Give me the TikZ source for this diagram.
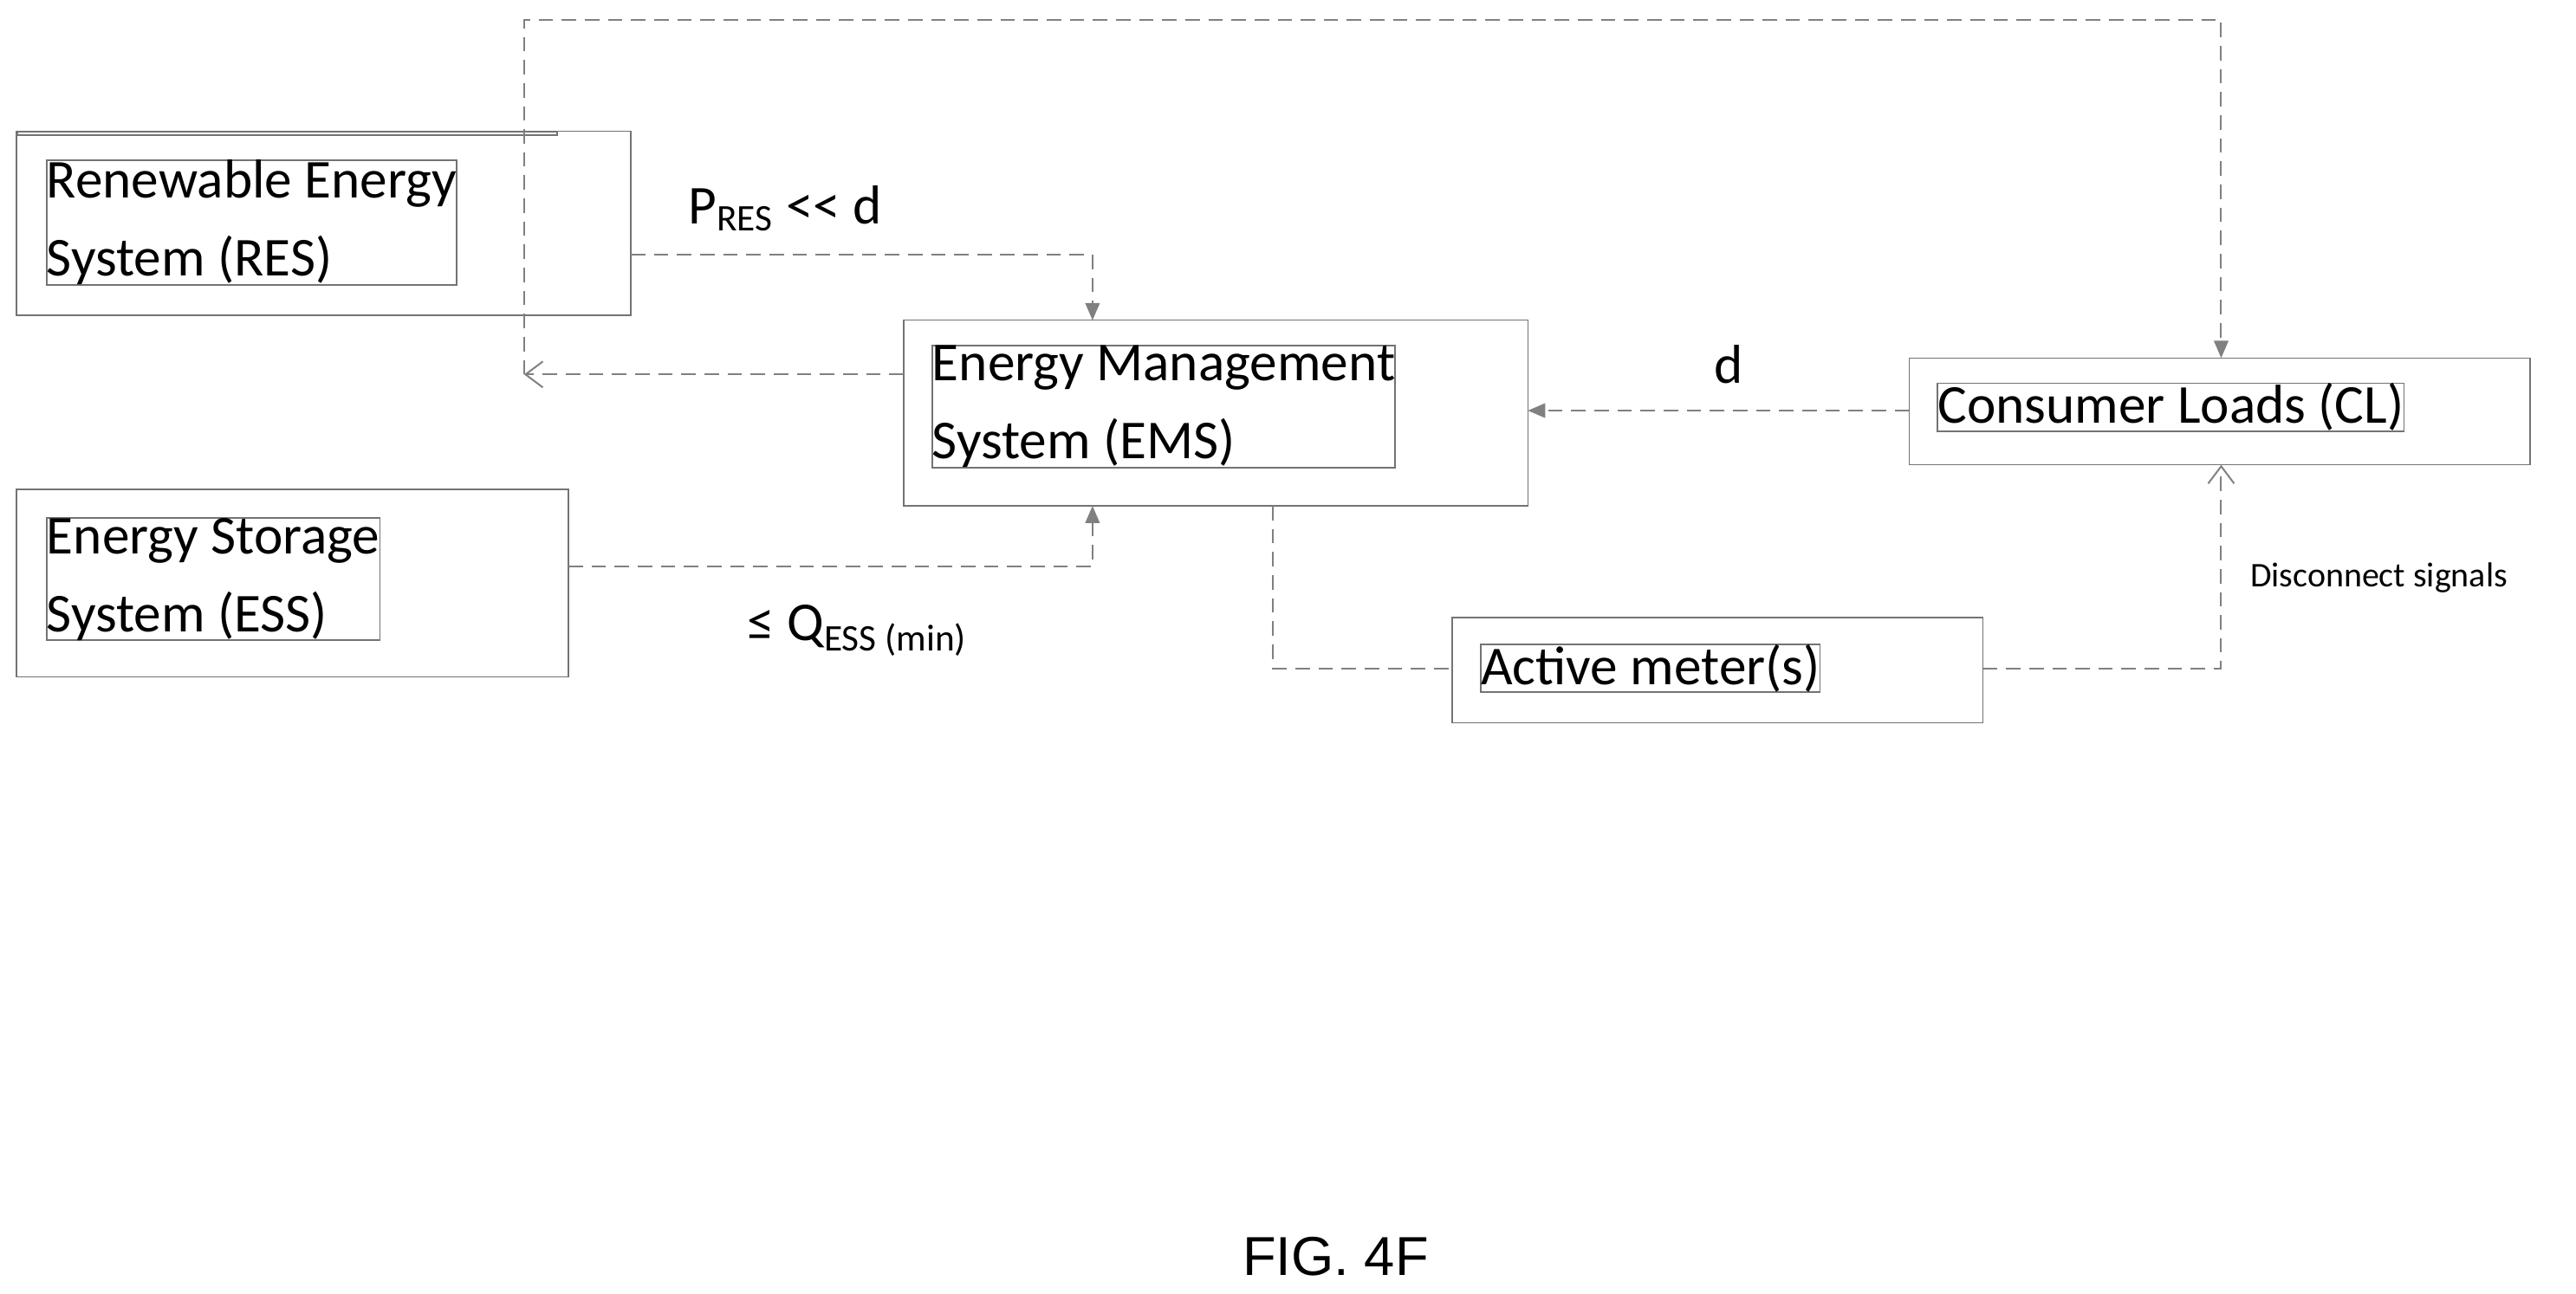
\documentclass[tikz,border=0pt]{standalone}
\usepackage{fontspec}
\setmainfont{Carlito}
\newfontfamily\figfont{Liberation Sans}
\usetikzlibrary{arrows.meta}
\begin{document}
\begin{tikzpicture}[x=0.02cm,y=-0.02cm,
  box/.style={draw=black!55,line width=0.5pt,align=left,anchor=north west,inner sep=0pt,font=\fontsize{19}{27}\selectfont},
  conn/.style={draw=black!50,line width=0.6pt,dash pattern=on 5pt off 3pt},
  tip/.style={-{Triangle[length=6pt,width=5pt]}},
  otip/.style={-{Straight Barb[length=6pt,width=9pt]}},
  lab/.style={font=\fontsize{19}{22}\selectfont,inner sep=0pt}]
\useasboundingbox (0,0) rectangle (1568,787.5);
\node[box,minimum width=374\pgflinewidth] (res) at (10,80) {};
\draw[black!55] (10,80) rectangle (384,192);
\node[box] (rest) at (28,97) {Renewable Energy\\System (RES)};
\draw[black!55] (10,298) rectangle (346,412);
\node[box] (esst) at (28,315) {Energy Storage\\System (ESS)};
\draw[black!55] (550,195) rectangle (930,308);
\node[box] (emst) at (567,210) {Energy Management\\System (EMS)};
\draw[black!55] (1162,218) rectangle (1540,283);
\node[box] (clt) at (1179,233) {Consumer Loads (CL)};
\draw[black!55] (884,376) rectangle (1207,440);
\node[box] (amt) at (901,392) {Active meter(s)};
\coordinate (j) at (319,228);
\draw[conn,otip] (550,228) -- (j);
\draw[conn,tip] (j) -- (319,12) -- (1352,12) -- (1352,218);
\draw[conn,tip] (384,155) -- (665,155) -- (665,195);
\draw[conn,tip] (346,345) -- (665,345) -- (665,308);
\draw[conn,tip] (1162,250) -- (930,250);
\draw[conn] (775,308) -- (775,407) -- (884,407);
\draw[conn,otip] (1207,407) -- (1352,407) -- (1352,283);
\node[lab] (pl) at (478,127) {P\textsubscript{\fontsize{13}{13}\selectfont RES} {<}{<} d};
\node[lab] (ql) at (522,384) {≤ Q\textsubscript{\fontsize{13}{13}\selectfont ESS (min)}};
\node[lab] (dl) at (1052,222) {d};
\node[font=\fontsize{12}{14}\selectfont,inner sep=0pt] (ds) at (1448,352) {Disconnect signals};
\node[font=\figfont\fontsize{19}{22}\selectfont,inner sep=0pt] (fig) at (813,765) {FIG. 4F};
\end{tikzpicture}
\end{document}
